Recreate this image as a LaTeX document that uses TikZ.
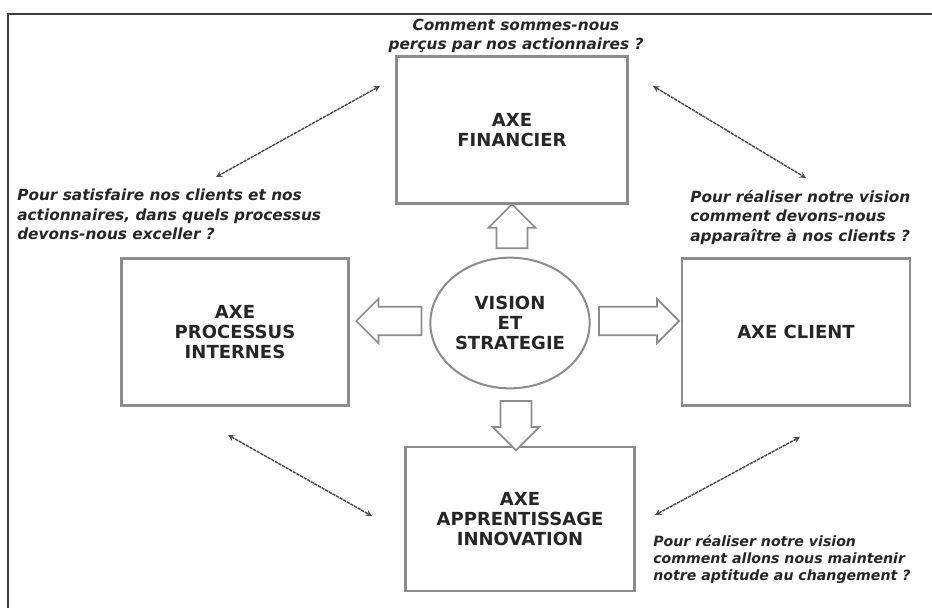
\documentclass[tikz,border=0pt]{standalone}
\usepackage{fontspec}
\setsansfont{DejaVu Sans}
\usetikzlibrary{shapes.geometric,shapes.arrows}
\tikzset{>=stealth}
\tikzset{
  axe/.style={draw=black!45,line width=2.2pt,fill=white,align=center,
    font=\sffamily\bfseries\fontsize{13.5}{14.8}\selectfont,text=black!85},
  question/.style={align=left,inner sep=0pt,text=black!85,
    font=\sffamily\bfseries\itshape\fontsize{11.5}{14.5}\selectfont},
  bloc/.style={single arrow,draw=black!45,line width=1.3pt,fill=white,
    inner xsep=0pt,inner ysep=10pt,single arrow head extend=6pt},
  lien/.style={<->,draw=black!70,line width=1.1pt,dash pattern=on 2.5pt off .6pt},
}

\begin{document}
\begin{tikzpicture}[x=.75pt,y=-.75pt]
    \useasboundingbox (0,0) rectangle (932,608);
    \draw[black!75,line width=2.2pt] (932,14) -- (8,14) -- (8,608);

    \node[axe,minimum width=173pt,minimum height=110pt] (financier) at (512,130) {AXE\\FINANCIER};
    \node[axe,minimum width=170pt,minimum height=110pt] (processus) at (235,332) {AXE\\PROCESSUS\\INTERNES};
    \node[axe,minimum width=171pt,minimum height=110pt] (client) at (796,332) {AXE CLIENT};
    \node[axe,minimum width=172pt,minimum height=108pt] (apprentissage) at (520,519) {AXE\\APPRENTISSAGE\\INNOVATION};
    \node[ellipse,draw=black!45,line width=1.5pt,minimum width=116pt,minimum height=98pt,inner sep=1pt,
      align=center,font=\sffamily\bfseries\fontsize{13.5}{14.8}\selectfont,text=black!85] (vision) at (510,323) {VISION\\ET\\STRATEGIE};

    \node[bloc,rotate=90,minimum height=33pt,inner ysep=11pt] (flecheH) at (512,234) {};
    \node[bloc,rotate=-90,minimum height=37pt,inner ysep=11pt] (flecheB) at (516,418) {};
    \node[bloc,rotate=180,minimum height=49pt] (flecheG) at (396,321) {};
    \node[bloc,minimum height=60pt] (flecheD) at (632,321) {};

    \node[question,align=center] (qfin) at (516,36) {Comment sommes-nous\\perçus par nos actionnaires ?};
    \node[question,anchor=north west] (qproc) at (17,189) {Pour satisfaire nos clients et nos\\actionnaires, dans quels processus\\devons-nous exceller ?};
    \node[question,anchor=north west] (qcli) at (690,190) {Pour réaliser notre vision\\comment devons-nous\\apparaître à nos clients ?};
    \node[question,anchor=north west,font=\sffamily\bfseries\itshape\fontsize{10.6}{12.8}\selectfont] (qapp) at (653,535) {Pour réaliser notre vision\\comment allons nous maintenir\\notre aptitude au changement ?};

    \coordinate (a1) at (380,86);  \coordinate (a2) at (216,177);
    \coordinate (b1) at (653,86);  \coordinate (b2) at (806,178);
    \coordinate (c1) at (228,435); \coordinate (c2) at (372,516);
    \coordinate (d1) at (800,437); \coordinate (d2) at (655,515);
    \foreach \u/\v in {a1/a2,b1/b2,c1/c2,d1/d2}
      \draw[lien] (\u) -- (\v);
  \end{tikzpicture}
\end{document}
